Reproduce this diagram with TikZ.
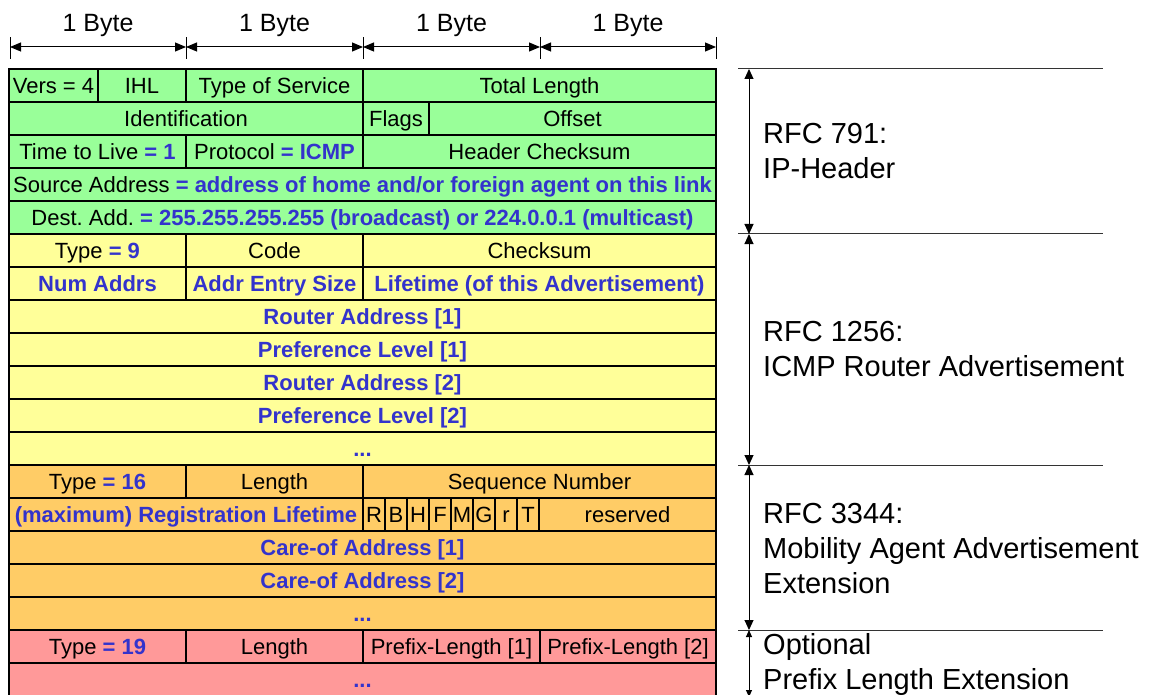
\documentclass[tikz,border=0pt]{standalone}
\usepackage{fontspec}
\setmainfont{Liberation Sans}
\usepackage{tikz}
\usetikzlibrary{arrows.meta}
\definecolor{ipgreen}{RGB}{153,255,153}
\definecolor{icmpyellow}{RGB}{255,255,153}
\definecolor{agentorange}{RGB}{255,204,102}
\definecolor{prefixred}{RGB}{255,153,153}
\definecolor{valblue}{RGB}{51,51,204}
\newcommand{\fval}[1]{\textcolor{valblue}{\bfseries #1}}
\tikzset{
  field/.style={draw=black, line width=1.2pt, anchor=north west, minimum height=33pt,
    inner sep=0pt, outer sep=0pt, text height=16pt, text depth=0pt,
    font=\fontsize{22}{25}\selectfont},
  ipfield/.style={field, fill=ipgreen},
  icmpfield/.style={field, fill=icmpyellow},
  agentfield/.style={field, fill=agentorange},
  prefixfield/.style={field, fill=prefixred},
  bytelabel/.style={font=\fontsize{25}{28}\selectfont, inner sep=0pt},
  rfclabel/.style={font=\fontsize{29}{35}\selectfont, anchor=west, align=left, inner sep=0pt},
  bytearrow/.style={line width=1pt, {Triangle[length=11pt,width=9pt]}-{Triangle[length=11pt,width=9pt]}},
  rfcarrow/.style={line width=1pt, {Triangle[length=10pt,width=9pt]}-{Triangle[length=10pt,width=9pt]}},
  rfcline/.style={line width=1pt, draw=black!80},
}
\begin{document}
\begin{tikzpicture}[x=1pt,y=-1pt]
\useasboundingbox[fill=white] (0,0) rectangle (1151,695);
% Byte scale
\coordinate (tick0) at (10,47);
\coordinate (tick1) at (186,47);
\coordinate (tick2) at (363,47);
\coordinate (tick3) at (540,47);
\coordinate (tick4) at (716,47);
\foreach \t in {0,...,4}
  \draw[line width=1pt] ([yshift=-12pt]tick\t) -- ([yshift=10pt]tick\t);
\draw[bytearrow] (tick0) -- (tick1);
\draw[bytearrow] (tick1) -- (tick2);
\draw[bytearrow] (tick2) -- (tick3);
\draw[bytearrow] (tick3) -- (tick4);
\node[bytelabel] (byte1) at (98,25) {1 Byte};
\node[bytelabel] (byte2) at (274.5,25) {1 Byte};
\node[bytelabel] (byte3) at (451.5,25) {1 Byte};
\node[bytelabel] (byte4) at (628,25) {1 Byte};
% RFC 791: IP header
\node[ipfield, minimum width=89pt] (vers) at (9,69) {Vers = 4};
\node[ipfield, minimum width=88pt] (ihl) at (vers.north east) {IHL};
\node[ipfield, minimum width=177pt] (tos) at (ihl.north east) {Type of Service};
\node[ipfield, minimum width=353pt] (totlen) at (tos.north east) {Total Length};
\node[ipfield, minimum width=354pt] (ident) at (vers.south west) {Identification};
\node[ipfield, minimum width=66pt] (flags) at (ident.north east) {Flags};
\node[ipfield, minimum width=287pt] (offset) at (flags.north east) {Offset};
\node[ipfield, minimum width=177pt] (ttl) at (ident.south west) {Time to Live \fval{= 1}};
\node[ipfield, minimum width=177pt] (proto) at (ttl.north east) {Protocol \fval{= ICMP}};
\node[ipfield, minimum width=353pt] (hcheck) at (proto.north east) {Header Checksum};
\node[ipfield, minimum width=707pt] (srcaddr) at (ttl.south west) {Source Address \fval{= address of home and/or foreign agent on this link}};
\node[ipfield, minimum width=707pt] (dstaddr) at (srcaddr.south west) {Dest.\ Add.\ \fval{= 255.255.255.255 (broadcast) or 224.0.0.1 (multicast)}};
% RFC 1256: ICMP router advertisement
\node[icmpfield, minimum width=177pt] (type9) at (dstaddr.south west) {Type \fval{= 9}};
\node[icmpfield, minimum width=177pt] (code) at (type9.north east) {Code};
\node[icmpfield, minimum width=353pt] (checksum) at (code.north east) {Checksum};
\node[icmpfield, minimum width=177pt] (numaddrs) at (type9.south west) {\fval{Num Addrs}};
\node[icmpfield, minimum width=177pt] (entrysize) at (numaddrs.north east) {\fval{Addr Entry Size}};
\node[icmpfield, minimum width=353pt] (lifetime) at (entrysize.north east) {\fval{Lifetime (of this Advertisement)}};
\node[icmpfield, minimum width=707pt] (router1) at (numaddrs.south west) {\fval{Router Address [1]}};
\node[icmpfield, minimum width=707pt] (pref1) at (router1.south west) {\fval{Preference Level [1]}};
\node[icmpfield, minimum width=707pt] (router2) at (pref1.south west) {\fval{Router Address [2]}};
\node[icmpfield, minimum width=707pt] (pref2) at (router2.south west) {\fval{Preference Level [2]}};
\node[icmpfield, minimum width=707pt] (icmpmore) at (pref2.south west) {\fval{...}};
% RFC 3344: mobility agent advertisement extension
\node[agentfield, minimum width=177pt] (type16) at (icmpmore.south west) {Type \fval{= 16}};
\node[agentfield, minimum width=177pt] (length16) at (type16.north east) {Length};
\node[agentfield, minimum width=353pt] (seqnum) at (length16.north east) {Sequence Number};
\node[agentfield, minimum width=354pt] (reglife) at (type16.south west) {\fval{(maximum) Registration Lifetime}};
\node[agentfield, minimum width=22pt] (flagR) at (reglife.north east) {R};
\node[agentfield, minimum width=22pt] (flagB) at (flagR.north east) {B};
\node[agentfield, minimum width=22pt] (flagH) at (flagB.north east) {H};
\node[agentfield, minimum width=22pt] (flagF) at (flagH.north east) {F};
\node[agentfield, minimum width=22pt] (flagM) at (flagF.north east) {M};
\node[agentfield, minimum width=22pt] (flagG) at (flagM.north east) {G};
\node[agentfield, minimum width=22pt] (flagr) at (flagG.north east) {r};
\node[agentfield, minimum width=22pt] (flagT) at (flagr.north east) {T};
\node[agentfield, minimum width=177pt] (reserved) at (flagT.north east) {reserved};
\node[agentfield, minimum width=707pt] (careof1) at (reglife.south west) {\fval{Care-of Address [1]}};
\node[agentfield, minimum width=707pt] (careof2) at (careof1.south west) {\fval{Care-of Address [2]}};
\node[agentfield, minimum width=707pt] (agentmore) at (careof2.south west) {\fval{...}};
% Optional prefix length extension
\node[prefixfield, minimum width=177pt] (type19) at (agentmore.south west) {Type \fval{= 19}};
\node[prefixfield, minimum width=177pt] (length19) at (type19.north east) {Length};
\node[prefixfield, minimum width=177pt] (prefix1) at (length19.north east) {Prefix-Length [1]};
\node[prefixfield, minimum width=176pt] (prefix2) at (prefix1.north east) {Prefix-Length [2]};
\node[prefixfield, minimum width=707pt] (prefixmore) at (type19.south west) {\fval{...}};
% Section marks on the right
\coordinate (markA) at (749,69);
\coordinate (markB) at (749,234);
\coordinate (markC) at (749,465);
\coordinate (markD) at (749,630);
\coordinate (markE) at (749,697);
\draw[rfcline] ([xshift=-11pt]markA) -- ([xshift=354pt]markA);
\draw[rfcline] ([xshift=-11pt]markB) -- ([xshift=354pt]markB);
\draw[rfcline] ([xshift=-11pt]markC) -- ([xshift=354pt]markC);
\draw[rfcline] ([xshift=-11pt]markD) -- ([xshift=354pt]markD);
\draw[rfcarrow] (markA) -- (markB);
\draw[rfcarrow] (markB) -- (markC);
\draw[rfcarrow] (markC) -- (markD);
\draw[line width=1pt, {Triangle[length=7pt,width=6pt]}-{Triangle[length=7pt,width=6pt]}] (markD) -- (markE);
\node[rfclabel] (rfc791) at (763,151.5) {RFC 791:\\IP-Header};
\node[rfclabel] (rfc1256) at (763,349.5) {RFC 1256:\\ICMP Router Advertisement};
\node[rfclabel] (rfc3344) at (763,549) {RFC 3344:\\Mobility Agent Advertisement\\Extension};
\node[rfclabel] (rfcprefix) at (763,664.5) {Optional\\Prefix Length Extension};
\end{tikzpicture}
\end{document}
